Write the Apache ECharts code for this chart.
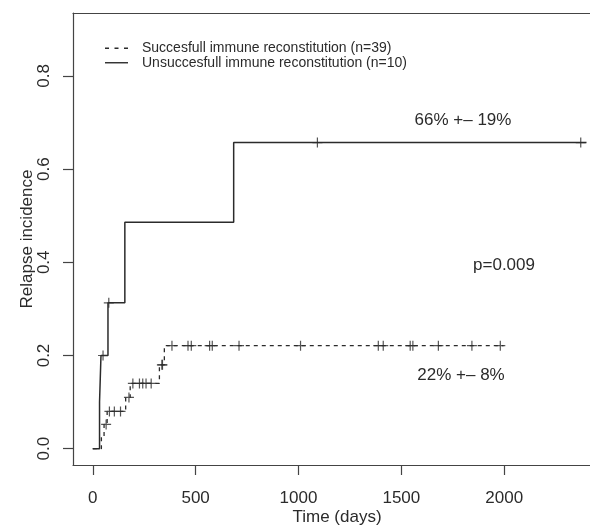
<!DOCTYPE html>
<html>
<head>
<meta charset="utf-8">
<script src="https://cdn.jsdelivr.net/npm/echarts@6/dist/echarts.min.js"></script>
<style>
  html, body { margin: 0; padding: 0; background: #fff; }
  #chart { width: 590px; height: 527px; }
</style>
</head>
<body>
<div id="chart"></div>
<script>
// step curves (time in days, cumulative relapse incidence)
const sucTimes = [0, 42, 55, 70, 160, 182, 324, 348, 1997];
const sucValues = [0, 0.026, 0.052, 0.08, 0.11, 0.14, 0.18, 0.221, 0.221];
const sucCensor = [65, 81, 105, 135, 176, 195, 227, 243, 259, 284, 336, 339, 385, 463, 479, 568, 581, 711, 1010, 1388, 1412, 1543, 1556, 1680, 1843, 1981];

const unsTimes = [0, 33, 40, 74, 156, 685, 2400];
const unsValues = [0, 0.1, 0.2, 0.313, 0.486, 0.657, 0.657];
const unsCensor = [50, 78, 1092, 2372];

const xTicks = [0, 500, 1000, 1500, 2000];
const yTicks = [0, 0.2, 0.4, 0.6, 0.8];

const sucName = 'Succesfull immune reconstitution (n=39)';
const unsName = 'Unsuccesfull immune reconstitution (n=10)';

const FONT = "'Liberation Sans', Arial, sans-serif";
const INK = '#2b2b2b';

// value of a step curve at time t
const stepAt = (times, values, t) => {
    let v = values[0];
    for (let i = 0; i < times.length; i++) {
        if (times[i] <= t) v = values[i];
    }
    return v;
};

const pairs = (times, values) => times.map((t, i) => [t, values[i]]);
const censorPts = (cens, times, values) => cens.map(t => [t, stepAt(times, values, t)]);

const PLUS = 'path://M-0.6,-5L0.6,-5L0.6,-0.6L5,-0.6L5,0.6L0.6,0.6L0.6,5L-0.6,5L-0.6,0.6L-5,0.6L-5,-0.6L-0.6,-0.6Z';
const DASH_ICON = 'path://M0,0H4V1.4H0Z M9.5,0H13.5V1.4H9.5Z M19,0H23V1.4H19Z';
const SOLID_ICON = 'path://M0,0H23V1.4H0Z';

const chart = echarts.init(document.getElementById('chart'));

chart.setOption({
    animation: false,
    backgroundColor: '#fff',
    textStyle: { fontFamily: FONT },
    grid: { left: 73, top: 13, right: 0, bottom: 62 },
    legend: {
        data: [{ name: sucName, icon: DASH_ICON }, { name: unsName, icon: SOLID_ICON }],
        orient: 'vertical',
        left: 105,
        top: 41,
        padding: 0,
        itemWidth: 23,
        itemHeight: 1.4,
        itemGap: 0,
        itemStyle: { borderWidth: 0 },
        textStyle: { fontFamily: FONT, fontSize: 14, lineHeight: 14.5, color: INK, padding: [0, 0, 0, 9] },
        selectedMode: false
    },
    xAxis: [{
        type: 'value',
        min: -96,
        max: 2417,
        splitLine: { show: false },
        axisLine: { show: true, onZero: false, lineStyle: { color: '#444', width: 1.2 } },
        axisTick: { show: true, customValues: xTicks, length: 10, lineStyle: { color: '#444', width: 1.2 } },
        axisLabel: { customValues: xTicks, fontSize: 17, color: INK, margin: 25, fontFamily: FONT, formatter: v => String(v) }
    }, {
        type: 'value',
        position: 'top',
        min: -96,
        max: 2417,
        splitLine: { show: false },
        axisLine: { show: true, onZero: false, lineStyle: { color: '#444', width: 1.2 } },
        axisTick: { show: false },
        axisLabel: { show: false }
    }],
    yAxis: {
        type: 'value',
        min: -0.035,
        max: 0.935,
        splitLine: { show: false },
        axisLine: { show: true, onZero: false, lineStyle: { color: '#444', width: 1.2 } },
        axisTick: { show: true, customValues: yTicks, length: 10, lineStyle: { color: '#444', width: 1.2 } },
        axisLabel: {
            customValues: yTicks,
            rotate: 90,
            fontSize: 17,
            color: INK,
            margin: 20,
            fontFamily: FONT,
            formatter: v => v.toFixed(1)
        }
    },
    graphic: [
        { type: 'text', x: 337, y: 517, style: { text: 'Time (days)', font: '17px ' + FONT, fill: INK, textAlign: 'center', textVerticalAlign: 'middle' } },
        { type: 'text', x: 27, y: 239, rotation: Math.PI / 2, style: { text: 'Relapse incidence', font: '17px ' + FONT, fill: INK, textAlign: 'center', textVerticalAlign: 'middle' } },
        { type: 'text', x: 463, y: 120, style: { text: '66% +– 19%', font: '17px ' + FONT, fill: INK, textAlign: 'center', textVerticalAlign: 'middle' } },
        { type: 'text', x: 504, y: 265, style: { text: 'p=0.009', font: '17px ' + FONT, fill: INK, textAlign: 'center', textVerticalAlign: 'middle' } },
        { type: 'text', x: 461, y: 375, style: { text: '22% +– 8%', font: '17px ' + FONT, fill: INK, textAlign: 'center', textVerticalAlign: 'middle' } }
    ],
    series: [{
        name: sucName,
        type: 'line',
        step: 'end',
        symbol: 'none',
        lineStyle: { color: INK, width: 1.3, type: [4, 4] },
        itemStyle: { color: INK },
        data: pairs(sucTimes, sucValues)
    }, {
        name: unsName,
        type: 'line',
        step: 'end',
        symbol: 'none',
        lineStyle: { color: INK, width: 1.5, type: 'solid' },
        itemStyle: { color: INK },
        data: pairs(unsTimes, unsValues)
    }, {
        name: 'sucCensor',
        type: 'scatter',
        symbol: PLUS,
        symbolSize: 10,
        itemStyle: { color: INK },
        data: censorPts(sucCensor, sucTimes, sucValues)
    }, {
        name: 'unsCensor',
        type: 'scatter',
        symbol: PLUS,
        symbolSize: 10,
        itemStyle: { color: INK },
        data: censorPts(unsCensor, unsTimes, unsValues)
    }]
});
</script>
</body>
</html>
